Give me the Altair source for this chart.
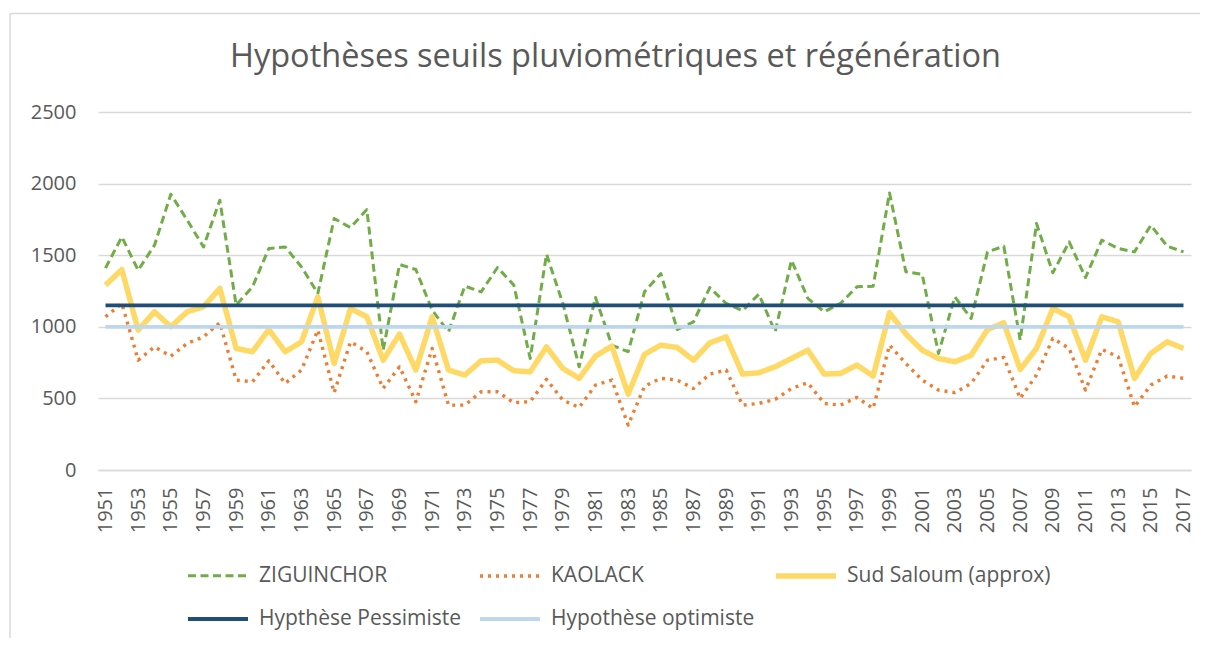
import altair as alt
import pandas as pd

years = list(range(1951, 2018))

ziguinchor = [1410, 1628, 1395, 1570, 1926, 1745, 1558, 1884, 1151, 1279, 1547, 1558, 1418, 1233, 1756, 1693, 1819,
              837, 1435, 1400, 1116, 965, 1284, 1244, 1414, 1291, 779, 1507, 1163, 721, 1205, 872, 826, 1244,
              1372, 981, 1035, 1274, 1163, 1112, 1228, 965, 1465, 1198, 1105, 1163, 1279, 1284, 1935, 1385,
              1367, 814, 1209, 1058, 1523, 1563, 907, 1721, 1377, 1593, 1344, 1605, 1547, 1523, 1709, 1563, 1523]

kaolack = [1070, 1163, 767, 860, 795, 884, 930, 1028, 628, 616, 763, 605, 698, 977, 540, 895, 826,
           570, 721, 477, 849, 453, 453, 546, 546, 470, 477, 633, 488, 437, 593, 628, 314, 585,
           640, 628, 570, 670, 698, 453, 465, 493, 570, 609, 465, 453, 507, 430, 872, 744,
           628, 558, 540, 605, 767, 786, 500, 663, 919, 849, 558, 842, 791, 442, 593, 656, 640]

sud_saloum = [1291, 1400, 977, 1105, 1000, 1105, 1140, 1268, 849, 826, 981, 826, 895, 1209, 744, 1128, 1070,
              767, 949, 698, 1070, 698, 663, 763, 767, 693, 686, 860, 709, 640, 795, 865, 530, 808,
              872, 856, 767, 888, 930, 670, 679, 721, 779, 837, 670, 674, 733, 656, 1098, 950,
              837, 779, 756, 802, 981, 1028, 702, 849, 1128, 1070, 767, 1070, 1035, 640, 814, 895, 849]

seuil_pessimiste = 1150
seuil_optimiste = 1000

names = ["ZIGUINCHOR", "KAOLACK", "Sud Saloum (approx)", "Hypthèse Pessimiste", "Hypothèse optimiste"]
colors = ["#70AD47", "#ED7D31", "#FFD966", "#1F4E79", "#BDD7EE"]
dashes = [[8, 4.5], [3, 5], [1, 0], [1, 0], [1, 0]]
widths = [3, 3.4, 5.5, 3.8, 3.8]

TEXT = "#595959"
FONT = "Open Sans"

all_vals = [ziguinchor, kaolack, sud_saloum,
            [seuil_pessimiste] * len(years), [seuil_optimiste] * len(years)]
rows = []
for k, (name, vals) in enumerate(zip(names, all_vals)):
    for y, v in zip(years, vals):
        rows.append({"annee": y, "valeur": v, "serie": name, "rang": k})
df = pd.DataFrame(rows)

W = 1093
H = 358

x_enc = alt.X("annee:Q",
              scale=alt.Scale(domain=[years[0], years[-1]], nice=False, zero=False, padding=7.5),
              axis=alt.Axis(values=years[::2], format="d", labelAngle=-90, labelFontSize=20,
                            labelFont=FONT, labelColor=TEXT, ticks=False, grid=False,
                            domain=True, domainColor="#D9D9D9", domainWidth=1.5,
                            labelPadding=17, title=None, labelOverlap=False))
y_enc = alt.Y("valeur:Q",
              scale=alt.Scale(domain=[0, 2500], nice=False),
              axis=alt.Axis(values=[0, 500, 1000, 1500, 2000, 2500], format="d", labelFontSize=20,
                            labelFont=FONT, labelColor=TEXT, ticks=False, domain=False, grid=True,
                            gridColor="#D9D9D9", gridWidth=1.3, labelPadding=22, title=None))

leg = alt.Legend(title=None, orient="none", direction="horizontal", columns=3,
                 legendX=87, legendY=431, symbolType="stroke", symbolSize=3600,
                 labelOffset=8, columnPadding=10, rowPadding=-17, labelLimit=400)

lines = alt.Chart(df).mark_line(strokeCap="butt", strokeJoin="round").encode(
    x=x_enc, y=y_enc,
    color=alt.Color("serie:N", scale=alt.Scale(domain=names, range=colors), legend=leg),
    strokeDash=alt.StrokeDash("serie:N", scale=alt.Scale(domain=names, range=dashes), legend=leg),
    strokeWidth=alt.StrokeWidth("serie:N", scale=alt.Scale(type="ordinal", domain=names, range=widths),
                                legend=leg),
    order=alt.Order("annee:Q"),
)

# light chart-area frame (left and top edges, as in the reference)
frame_top = alt.Chart(alt.Data(values=[{}])).mark_rule(color="#D9D9D9", strokeWidth=1.5).encode(
    x=alt.value(-88), x2=alt.value(W + 10), y=alt.value(-98.5))
frame_left = alt.Chart(alt.Data(values=[{}])).mark_rule(color="#D9D9D9", strokeWidth=1.5).encode(
    x=alt.value(-88), y=alt.value(-98.5), y2=alt.value(H + 200))

chart = alt.layer(frame_top, frame_left, lines).properties(
    width=W, height=H,
    autosize=alt.AutoSizeParams(type="none"),
    padding={"left": 90, "top": 104, "right": 9, "bottom": 168},
    title=alt.TitleParams("Hypothèses seuils pluviométriques et régénération", font=FONT,
                          fontSize=32.5, fontWeight="normal", color=TEXT, anchor="middle",
                          frame="group", dx=-29, dy=93, offset=32),
).configure_view(stroke=None).configure_legend(
    labelFont=FONT, labelFontSize=21, labelColor=TEXT
)

chart.save("out.html", embed_options={"renderer": "svg", "actions": False})
